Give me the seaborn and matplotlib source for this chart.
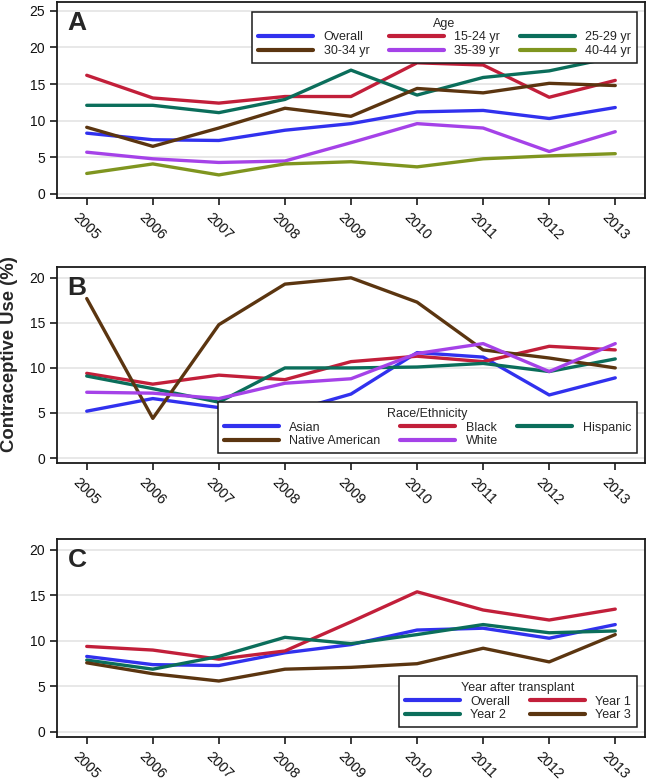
import pandas as pd
import matplotlib
matplotlib.use("Agg")
import matplotlib.pyplot as plt
import seaborn as sns

# years on the x axis (shared by all panels)
years = [2005, 2006, 2007, 2008, 2009, 2010, 2011, 2012, 2013]

# Panel A - by age group
overall = [8.3, 7.4, 7.3, 8.7, 9.6, 11.2, 11.4, 10.3, 11.8]
age_15_24 = [16.2, 13.1, 12.4, 13.3, 13.3, 17.9, 17.6, 13.2, 15.5]
age_25_29 = [12.1, 12.1, 11.1, 12.9, 16.9, 13.5, 15.9, 16.8, 18.7]
age_30_34 = [9.1, 6.5, 9.0, 11.7, 10.6, 14.4, 13.8, 15.1, 14.8]
age_35_39 = [5.7, 4.8, 4.3, 4.5, 7.0, 9.6, 9.0, 5.8, 8.5]
age_40_44 = [2.8, 4.1, 2.6, 4.1, 4.4, 3.7, 4.8, 5.2, 5.5]

# Panel B - by race/ethnicity
asian = [5.2, 6.6, 5.6, 5.0, 7.1, 11.7, 11.2, 7.0, 8.9]
black = [9.4, 8.2, 9.2, 8.7, 10.7, 11.3, 10.7, 12.4, 12.0]
hispanic = [9.1, 7.7, 6.2, 10.0, 10.0, 10.1, 10.5, 9.6, 11.0]
native_american = [17.7, 4.4, 14.8, 19.3, 20.0, 17.3, 12.0, 11.1, 10.0]
white = [7.3, 7.2, 6.6, 8.3, 8.8, 11.6, 12.7, 9.6, 12.7]

# Panel C - by year after transplant
year_1 = [9.4, 9.0, 8.0, 8.9, 12.1, 15.4, 13.4, 12.3, 13.5]
year_2 = [7.9, 6.9, 8.3, 10.4, 9.7, 10.7, 11.8, 10.9, 11.1]
year_3 = [7.6, 6.4, 5.6, 6.9, 7.1, 7.5, 9.2, 7.7, 10.7]

blue = "#3131EE"
red = "#C21F3A"
teal = "#0B6E5B"
brown = "#5B3510"
purple = "#A542E8"
olive = "#7F951F"

sns.set_style("white")
plt.rcParams["font.family"] = ["Liberation Sans", "DejaVu Sans"]


def long_form(series):
    rows = []
    for name, vals in series.items():
        for yr, v in zip(years, vals):
            rows.append({"year": yr, "value": v, "group": name})
    return pd.DataFrame(rows)


def style_axes(ax, ymax, top):
    ax.set_xlim(2004.55, 2013.45)
    ax.set_ylim(-0.55, top)
    ax.set_xticks(years)
    ax.set_yticks(range(0, ymax + 1, 5))
    ax.set_xlabel("")
    ax.set_ylabel("")
    ax.grid(axis="y", color="#e2e2e2", linewidth=1.1)
    ax.set_axisbelow(True)
    for s in ax.spines.values():
        s.set_color("#1a1a1a")
        s.set_linewidth(1.3)
    ax.tick_params(axis="both", which="major", length=5, width=1.2,
                   color="#1a1a1a", labelsize=10, direction="out",
                   bottom=True, left=True, labelcolor="#111111")
    plt.setp(ax.get_xticklabels(), rotation=-45, ha="center", fontsize=10.3)


def add_legend(ax, order, title, ncol, loc, anchor):
    handles, labels = ax.get_legend_handles_labels()
    lookup = dict(zip(labels, handles))
    leg = ax.legend([lookup[k] for k in order], order, title=title, ncol=ncol,
                    loc=loc, bbox_to_anchor=anchor, borderaxespad=0,
                    fontsize=9, title_fontsize=9, handlelength=4.4,
                    handletextpad=0.85, columnspacing=1.55,
                    labelspacing=0.15, borderpad=0.45, frameon=True,
                    fancybox=False, framealpha=1, edgecolor="#1a1a1a")
    leg.get_frame().set_linewidth(1.1)
    for h in leg.get_lines():
        h.set_linewidth(3)


fig = plt.figure(figsize=(6.46, 7.80), dpi=100)
ax_a = fig.add_axes([57 / 646, 1 - 198 / 780, 588 / 646, 196 / 780])
ax_b = fig.add_axes([57 / 646, 1 - 463 / 780, 588 / 646, 196 / 780])
ax_c = fig.add_axes([57 / 646, 1 - 737 / 780, 588 / 646, 198 / 780])

# Panel A
df_a = long_form({"Overall": overall, "15-24 yr": age_15_24, "25-29 yr": age_25_29,
                  "30-34 yr": age_30_34, "35-39 yr": age_35_39, "40-44 yr": age_40_44})
sns.lineplot(data=df_a, x="year", y="value", hue="group", ax=ax_a, linewidth=2.4,
             palette=[blue, red, teal, brown, purple, olive])
style_axes(ax_a, 25, 26.2)
add_legend(ax_a, ["Overall", "30-34 yr", "15-24 yr", "35-39 yr", "25-29 yr", "40-44 yr"],
           "Age", 3, "upper right", (0.986, 0.949))

# Panel B
df_b = long_form({"Asian": asian, "Black": black, "Hispanic": hispanic,
                  "Native American": native_american, "White": white})
sns.lineplot(data=df_b, x="year", y="value", hue="group", ax=ax_b, linewidth=2.4,
             palette=[blue, red, teal, brown, purple])
style_axes(ax_b, 20, 21.2)
add_legend(ax_b, ["Asian", "Native American", "Black", "White", "Hispanic"],
           "Race/Ethnicity", 3, "lower right", (0.986, 0.051))

# Panel C
df_c = long_form({"Overall": overall, "Year 1": year_1, "Year 2": year_2, "Year 3": year_3})
sns.lineplot(data=df_c, x="year", y="value", hue="group", ax=ax_c, linewidth=2.4,
             palette=[blue, red, teal, brown])
style_axes(ax_c, 20, 21.2)
add_legend(ax_c, ["Overall", "Year 2", "Year 1", "Year 3"],
           "Year after transplant", 2, "lower right", (0.986, 0.05))

for ax, letter in zip([ax_a, ax_b, ax_c], ["A", "B", "C"]):
    ax.text(0.018, 0.955, letter, transform=ax.transAxes, fontsize=19,
            fontweight="bold", va="top", ha="left")

fig.text(10 / 646, 1 - 354 / 780, "Contraceptive Use (%)", rotation=90,
         ha="center", va="center", fontsize=13.3, fontweight="bold")

fig.savefig("out.png", dpi=100)
